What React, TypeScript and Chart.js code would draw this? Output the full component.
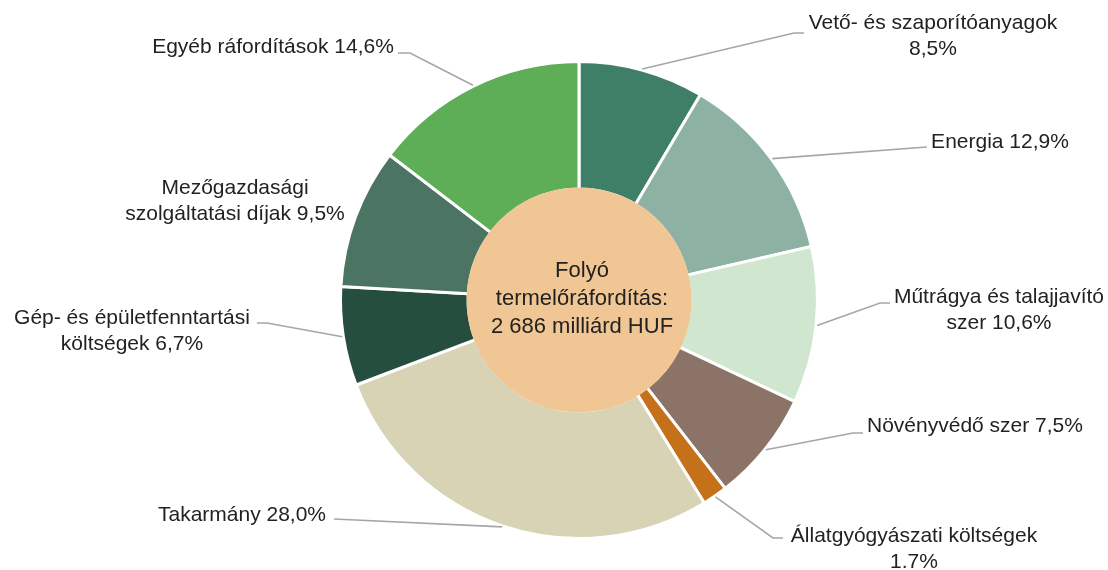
import React, { useEffect, useRef } from "react";
import { Chart, registerables } from "chart.js";

Chart.register(...registerables);

const categories = [
  "Vető- és szaporítóanyagok",
  "Energia",
  "Műtrágya és talajjavító szer",
  "Növényvédő szer",
  "Állatgyógyászati költségek",
  "Takarmány",
  "Gép- és épületfenntartási költségek",
  "Mezőgazdasági szolgáltatási díjak",
  "Egyéb ráfordítások",
];

const values = [8.5, 12.9, 10.6, 7.5, 1.7, 28.0, 6.7, 9.5, 14.6];

const labelLines = [
  ["Vető- és szaporítóanyagok", "8,5%"],
  ["Energia 12,9%"],
  ["Műtrágya és talajjavító", "szer 10,6%"],
  ["Növényvédő szer 7,5%"],
  ["Állatgyógyászati költségek", "1.7%"],
  ["Takarmány 28,0%"],
  ["Gép- és épületfenntartási", "költségek 6,7%"],
  ["Mezőgazdasági", "szolgáltatási díjak 9,5%"],
  ["Egyéb ráfordítások 14,6%"],
];

const centerLines = ["Folyó", "termelőráfordítás:", "2 686 milliárd HUF"];

const colors = [
  "#3F7F67",
  "#8DB2A4",
  "#D0E6CF",
  "#8C7367",
  "#C5711A",
  "#D8D3B5",
  "#264E3F",
  "#4B7463",
  "#5DAE57",
];

// label layout (text centre x, first line y, leader bend points)
const labelLayout: { cx: number; y0: number; pts: number[][] }[] = [
  { cx: 933, y0: 23, pts: [[794, 33], [804, 33]] },
  { cx: 1000, y0: 142, pts: [[927, 147]] },
  { cx: 999, y0: 297, pts: [[880, 303], [890, 303]] },
  { cx: 975, y0: 426, pts: [[853, 433], [863, 433]] },
  { cx: 914, y0: 536, pts: [[773, 538], [783, 538]] },
  { cx: 242, y0: 515, pts: [[334, 519]] },
  { cx: 132, y0: 318, pts: [[267, 323], [257, 323]] },
  { cx: 235, y0: 188, pts: [] },
  { cx: 273, y0: 47, pts: [[410, 53], [398, 53]] },
];

const FONT = '"Liberation Sans", Arial, sans-serif';
const TEXT_COLOR = "#222222";

const donutDecor = {
  id: "donutDecor",
  afterDatasetsDraw(chart: any) {
    const meta = chart.getDatasetMeta(0);
    const arc = meta.data[0];
    if (!arc) return;
    const { x, y, innerRadius } = arc.getProps(["x", "y", "innerRadius"], true);
    const ctx = chart.ctx;
    ctx.save();
    ctx.beginPath();
    ctx.arc(x, y, innerRadius + 1.6, 0, Math.PI * 2);
    ctx.fillStyle = "#F1C695";
    ctx.fill();
    ctx.fillStyle = TEXT_COLOR;
    ctx.font = `22px ${FONT}`;
    ctx.textAlign = "center";
    ctx.textBaseline = "middle";
    const lh = 28;
    centerLines.forEach((t, i) => {
      ctx.fillText(t, x + 3, y - lh + i * lh - 1);
    });
    ctx.restore();
  },
  afterDraw(chart: any) {
    const meta = chart.getDatasetMeta(0);
    const ctx = chart.ctx;
    ctx.save();
    meta.data.forEach((el: any, i: number) => {
      const p = el.getProps(["x", "y", "startAngle", "endAngle", "outerRadius"], true);
      const mid = (p.startAngle + p.endAngle) / 2;
      const lay = labelLayout[i];
      if (lay.pts.length) {
        const sx = p.x + Math.cos(mid) * (p.outerRadius + 1);
        const sy = p.y + Math.sin(mid) * (p.outerRadius + 1);
        ctx.beginPath();
        ctx.moveTo(sx, sy);
        lay.pts.forEach((pt) => ctx.lineTo(pt[0], pt[1]));
        ctx.strokeStyle = "#A6A6A6";
        ctx.lineWidth = 1.6;
        ctx.stroke();
      }
      ctx.fillStyle = TEXT_COLOR;
      ctx.font = `21px ${FONT}`;
      ctx.textAlign = "center";
      ctx.textBaseline = "middle";
      labelLines[i].forEach((t, j) => {
        ctx.fillText(t, lay.cx, lay.y0 + j * 26.5);
      });
    });
    ctx.restore();
  },
};

export default function App() {
  const ref = useRef<HTMLCanvasElement>(null);
  useEffect(() => {
    if (!ref.current) return;
    const chart = new Chart(ref.current, {
      type: "doughnut",
      data: {
        labels: categories,
        datasets: [
          {
            data: values,
            backgroundColor: colors,
            borderColor: "#FFFFFF",
            borderWidth: 3,
          },
        ],
      },
      options: {
        animation: false,
        responsive: true,
        maintainAspectRatio: false,
        cutout: "46.5%",
        layout: { padding: { top: 60, bottom: 30, left: 50, right: 0 } },
        plugins: {
          legend: { display: false },
          tooltip: { enabled: false },
        },
      },
      plugins: [donutDecor],
    });
    return () => chart.destroy();
  }, []);
  return (
    <div style={{ position: "absolute", left: 0, top: 0, width: 1108, height: 570, background: "#fff" }}>
      <canvas ref={ref} />
    </div>
  );
}
